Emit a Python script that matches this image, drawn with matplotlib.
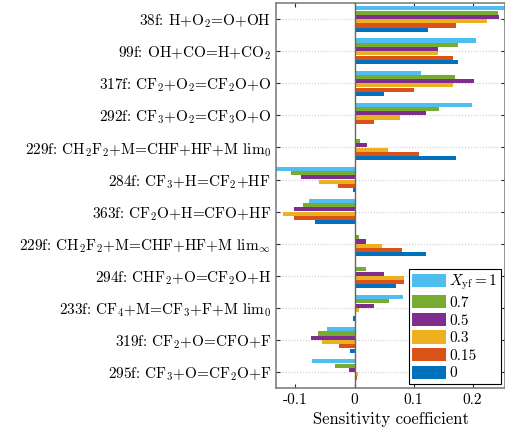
import matplotlib
matplotlib.use("Agg")
import matplotlib.pyplot as plt
import numpy as np

plt.rcParams['font.family'] = 'serif'
plt.rcParams['font.serif'] = ['cmr10', 'DejaVu Serif']
plt.rcParams['mathtext.fontset'] = 'cm'
plt.rcParams['axes.unicode_minus'] = False
plt.rcParams['axes.formatter.use_mathtext'] = True

reactions = [
    "38f: H+O$_2$=O+OH",
    "99f: OH+CO=H+CO$_2$",
    "317f: CF$_2$+O$_2$=CF$_2$O+O",
    "292f: CF$_3$+O$_2$=CF$_3$O+O",
    "229f: CH$_2$F$_2$+M=CHF+HF+M lim$_0$",
    "284f: CF$_3$+H=CF$_2$+HF",
    "363f: CF$_2$O+H=CFO+HF",
    "229f: CH$_2$F$_2$+M=CHF+HF+M lim$_\\infty$",
    "294f: CHF$_2$+O=CF$_2$O+H",
    "233f: CF$_4$+M=CF$_3$+F+M lim$_0$",
    "319f: CF$_2$+O=CFO+F",
    "295f: CF$_3$+O=CF$_2$O+F",
]

series_labels = ["$X_{\\rm yf}=1$", "0.7", "0.5", "0.3", "0.15", "0"]

# sensitivity per reaction, one list per X_yf
s_100 = [0.258, 0.206, 0.1135, 0.199, 0.002, -0.134, -0.0764, 0.002, 0.002, 0.0826, -0.047, -0.0713]
s_070 = [0.244, 0.176, 0.170, 0.143, 0.009, -0.108, -0.0865, 0.008, 0.020, 0.0584, -0.062, -0.033]
s_050 = [0.2455, 0.1416, 0.202, 0.121, 0.021, -0.091, -0.103, 0.020, 0.0506, 0.0337, -0.0736, -0.009]
s_030 = [0.224, 0.1416, 0.167, 0.0775, 0.057, -0.0607, -0.122, 0.046, 0.0843, 0.008, -0.0556, 0.006]
s_015 = [0.1725, 0.167, 0.101, 0.0337, 0.110, -0.0287, -0.102, 0.081, 0.0843, 0.003, -0.027, 0.0034]
s_000 = [0.125, 0.176, 0.0494, 0.002, 0.172, -0.003, -0.067, 0.121, 0.070, -0.002, -0.0084, 0.0015]

series = [s_100, s_070, s_050, s_030, s_015, s_000]
colors = [(0.301, 0.745, 0.933), (0.466, 0.674, 0.188), (0.494, 0.184, 0.556),
          (0.929, 0.694, 0.125), (0.850, 0.325, 0.098), (0.0, 0.447, 0.741)]

fig = plt.figure(figsize=(5.06, 4.36), dpi=100)
ax = fig.add_axes([0.5455, 0.110, 0.4525, 0.883])

y = np.arange(1, len(reactions) + 1)
slot = 0.8 / len(series)
for i, (vals, c, lab) in enumerate(zip(series, colors, series_labels)):
    ax.barh(y + (i - 2.5) * slot, vals, height=slot * 0.95, color=c, label=lab, zorder=2)

ax.axvline(0, color=(0.4, 0.4, 0.4), lw=1.0, zorder=3)

ax.set_ylim(12.5, 0.5)
ax.set_xlim(-0.133, 0.255)
ax.set_yticks(y)
ax.set_yticklabels(reactions, fontsize=11)
ax.set_xticks([-0.1, 0, 0.1, 0.2])
ax.set_xticklabels(["-0.1", "0", "0.1", "0.2"], fontsize=11)
ax.set_xlabel("Sensitivity coefficient", fontsize=12)
ax.yaxis.grid(True, linestyle=':', color=(0.8, 0.8, 0.8), lw=0.8, zorder=0)
ax.tick_params(direction='in', top=True, right=True, length=3, color=(0.15, 0.15, 0.15))
for sp in ax.spines.values():
    sp.set_color((0.5, 0.5, 0.5))
    sp.set_linewidth(1.2)

leg = ax.legend(loc='lower right', fontsize=11, handlelength=2.2, handleheight=0.95,
                fancybox=False, edgecolor='black', framealpha=1, borderaxespad=0.25,
                labelspacing=0.18, handletextpad=0.2, borderpad=0.25)
leg.get_frame().set_linewidth(0.8)

fig.savefig("out.png", dpi=100)
